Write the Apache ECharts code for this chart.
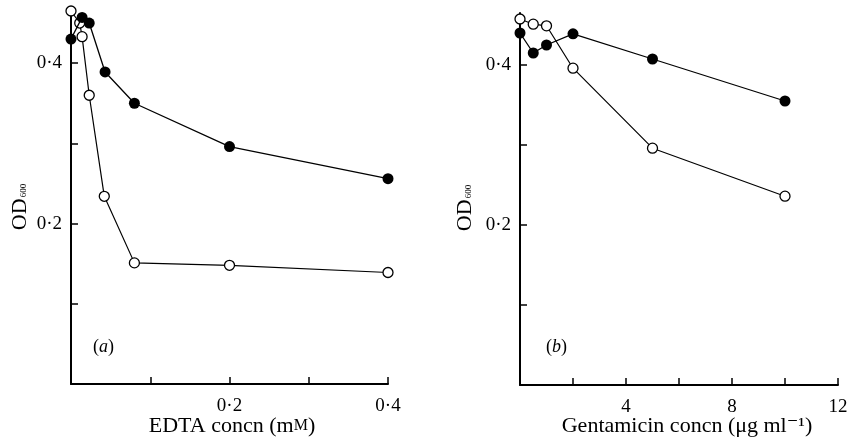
<!DOCTYPE html>
<html><head><meta charset="utf-8">
<script src="https://cdn.jsdelivr.net/npm/echarts@6/dist/echarts.min.js"></script>
<style>html,body{margin:0;padding:0;background:#fff}#c{width:851px;height:446px}</style>
</head><body><div id="c"></div>
<script>
// Panel (a): EDTA
const edtaXFilled = [0, 0.014, 0.023, 0.043, 0.08, 0.2, 0.4];
const edtaFilled  = [0.43, 0.457, 0.45, 0.389, 0.35, 0.296, 0.256];
const edtaXOpen   = [0, 0.011, 0.014, 0.023, 0.042, 0.08, 0.2, 0.4];
const edtaOpen    = [0.465, 0.45, 0.433, 0.36, 0.234, 0.151, 0.148, 0.139];
// Panel (b): Gentamicin
const gentX       = [0, 0.5, 1, 2, 5, 10];
const gentFilled  = [0.44, 0.415, 0.425, 0.439, 0.4075, 0.355];
const gentOpen    = [0.4575, 0.451, 0.449, 0.396, 0.296, 0.236];
// ticks
const yTicks = [0.1, 0.2, 0.3, 0.4];
const yLabels = [0.2, 0.4];
const edtaTicks = [0.1, 0.2, 0.3, 0.4];
const edtaLabels = [0.2, 0.4];
const gentTicks = [2, 4, 6, 8, 10, 12];
const gentLabels = [4, 8, 12];

const FONT = '"Liberation Serif", "DejaVu Serif", serif';
const dot = v => String(Math.round(v * 1000) / 1000).replace('.', '\u00b7');
const zip = (xs, ys) => xs.map((x, i) => [x, ys[i]]);

const axisLine = {show: true, lineStyle: {color: '#000', width: 2}};
const tick = vals => ({show: true, inside: true, length: 7, customValues: vals, lineStyle: {color: '#000', width: 1.5}});
const lbl = (vals, fmt, margin) => ({show: true, customValues: vals, formatter: fmt, color: '#000', fontFamily: FONT, fontSize: 19, margin: margin});

function yAxis(gi) {
  return {
    type: 'value', gridIndex: gi, min: 0, max: 0.465,
    axisLine, axisTick: tick(yTicks), axisLabel: lbl(yLabels, v => dot(v), 9),
    splitLine: {show: false}
  };
}

const odLabel = (x, y) => ({
  type: 'text', x: x, y: y, rotation: Math.PI / 2,
  style: {text: 'OD{s|600}', font: '22px ' + FONT, fill: '#000', align: 'center', verticalAlign: 'middle',
    rich: {s: {fontSize: 9, fontFamily: FONT, fill: '#000', padding: [0, 0, -8, 1]}}}
});
const xName = (x, y, text, rich) => ({
  type: 'text', x: x, y: y,
  style: {text: text, font: '22px ' + FONT, fill: '#000', align: 'center', verticalAlign: 'middle', rich: rich || {}}
});

const filledStyle = {
  type: 'line', symbol: 'circle', symbolSize: 11, clip: false,
  itemStyle: {color: '#000', borderColor: '#000', borderWidth: 0},
  lineStyle: {color: '#000', width: 1.3}, z: 3
};
const openStyle = {
  type: 'line', symbol: 'circle', symbolSize: 10, clip: false,
  itemStyle: {color: '#fff', borderColor: '#000', borderWidth: 1.3},
  lineStyle: {color: '#000', width: 1.2}, z: 2
};

const option = {
  backgroundColor: '#fff',
  animation: false,
  grid: [
    {left: 71, top: 11, width: 317, height: 373, outerBoundsMode: 'none', containLabel: false},
    {left: 520, top: 13, width: 318, height: 372, outerBoundsMode: 'none', containLabel: false}
  ],
  xAxis: [
    {type: 'value', gridIndex: 0, min: 0, max: 0.4,
     axisLine, axisTick: tick(edtaTicks), axisLabel: lbl(edtaLabels, v => dot(v), 13),
     splitLine: {show: false}},
    {type: 'value', gridIndex: 1, min: 0, max: 12,
     axisLine, axisTick: tick(gentTicks), axisLabel: lbl(gentLabels, v => String(v), 13),
     splitLine: {show: false}}
  ],
  yAxis: [yAxis(0), yAxis(1)],
  graphic: [
    odLabel(20, 207),
    odLabel(465, 208),
    xName(232, 426, 'EDTA concn (m{sc|M})', {sc: {fontSize: 16, fontFamily: FONT, fill: '#000'}}),
    xName(687, 426, 'Gentamicin concn (\u03bcg ml\u207b\u00b9)'),
    {type: 'text', left: 93, top: 338, style: {text: '({i|a})', font: '18px ' + FONT, fill: '#000',
      rich: {i: {fontStyle: 'italic', fontSize: 18, fontFamily: FONT}}}},
    {type: 'text', left: 546, top: 338, style: {text: '({i|b})', font: '18px ' + FONT, fill: '#000',
      rich: {i: {fontStyle: 'italic', fontSize: 18, fontFamily: FONT}}}}
  ],
  series: [
    Object.assign({}, openStyle, {xAxisIndex: 0, yAxisIndex: 0, data: zip(edtaXOpen, edtaOpen)}),
    Object.assign({}, filledStyle, {xAxisIndex: 0, yAxisIndex: 0, data: zip(edtaXFilled, edtaFilled)}),
    Object.assign({}, openStyle, {xAxisIndex: 1, yAxisIndex: 1, data: zip(gentX, gentOpen)}),
    Object.assign({}, filledStyle, {xAxisIndex: 1, yAxisIndex: 1, data: zip(gentX, gentFilled)})
  ]
};
const chart = echarts.init(document.getElementById('c'), null, {renderer: 'canvas'});
chart.setOption(option);
</script></body></html>
